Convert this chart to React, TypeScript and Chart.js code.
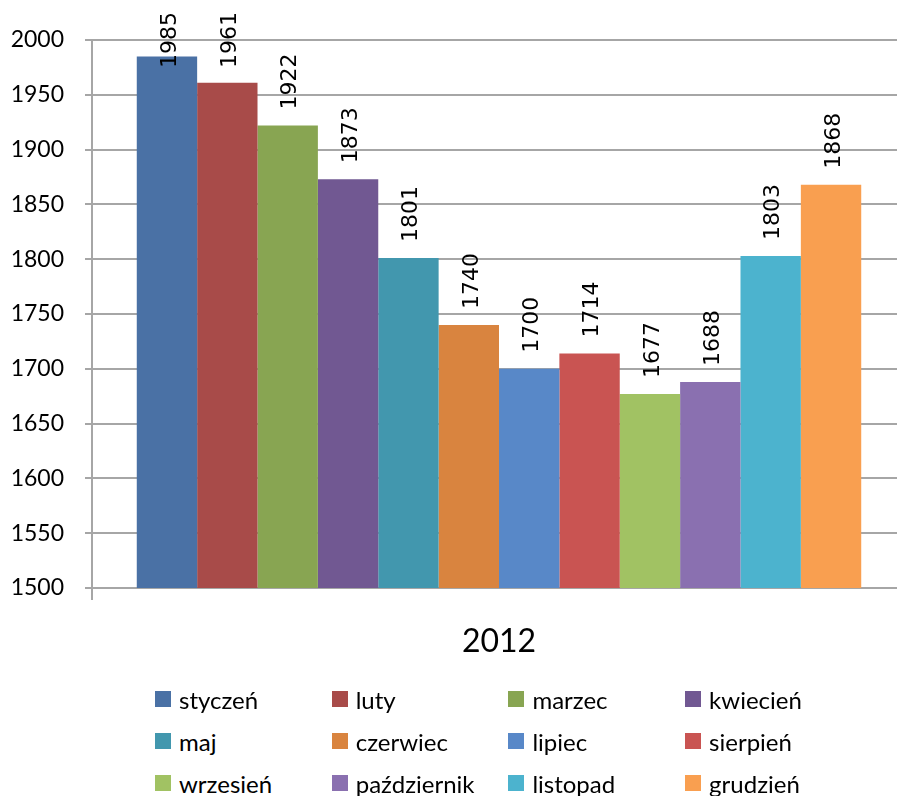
import React, { useEffect, useRef } from "react";
import { Chart, registerables } from "chart.js";

Chart.register(...registerables);

const categories = ["2012"];
const seriesNames = [
  "styczeń", "luty", "marzec", "kwiecień", "maj", "czerwiec",
  "lipiec", "sierpień", "wrzesień", "październik", "listopad", "grudzień",
];
const seriesValues = [1985, 1961, 1922, 1873, 1801, 1740, 1700, 1714, 1677, 1688, 1803, 1868];
const seriesColors = [
  "#4A71A5", "#A84B49", "#88A552", "#715892", "#4297AE", "#D9843F",
  "#5888C8", "#C95452", "#A1C263", "#8A70B0", "#4CB3CE", "#F99F50",
];
const yMin = 1500;
const yMax = 2000;
const yStep = 50;

const GRID = "#a6a6a6";

const labelPlugin = {
  id: "rotLabels",
  afterDatasetsDraw(chart: any) {
    const ctx = chart.ctx;
    ctx.save();
    ctx.font = "22px 'DejaVu Sans'";
    ctx.fillStyle = "#000";
    ctx.textAlign = "left";
    ctx.textBaseline = "middle";
    chart.data.datasets.forEach((ds: any, i: number) => {
      const meta = chart.getDatasetMeta(i);
      const bar = meta.data[0];
      if (!bar) return;
      const text = String(ds.data[0]);
      const w = ctx.measureText(text).width;
      let y = bar.y - 16;
      if (y - w < 12) y = 12 + w;
      ctx.save();
      ctx.translate(bar.x + 3, y);
      ctx.rotate(-Math.PI / 2);
      ctx.fillText(text, 0, 0);
      ctx.restore();
    });
    ctx.restore();
  },
};

export default function App() {
  const ref = useRef<HTMLCanvasElement>(null);
  useEffect(() => {
    document.body.style.margin = "0";
    const chart = new Chart(ref.current as HTMLCanvasElement, {
      type: "bar",
      data: {
        labels: categories,
        datasets: seriesNames.map((name, i) => ({
          label: name,
          data: [seriesValues[i]],
          backgroundColor: seriesColors[i],
          borderWidth: 0,
          categoryPercentage: 0.89,
          barPercentage: 1,
        })),
      },
      options: {
        animation: false,
        responsive: false,
        devicePixelRatio: 1,
        layout: { padding: { top: 40, right: 0, bottom: 0, left: 0 } },
        plugins: { legend: { display: false }, tooltip: { enabled: false } },
        scales: {
          x: {
            grid: {
              display: true,
              drawOnChartArea: false,
              drawTicks: true,
              tickLength: 12,
              offset: true,
              color: GRID,
              lineWidth: 2,
            },
            border: { display: true, color: GRID, width: 2 },
            ticks: {
              color: "#000",
              font: { family: "Lato", size: 32 },
              padding: 22,
            },
            afterFit(s: any) {
              s.height = 92;
            },
          },
          y: {
            min: yMin,
            max: yMax,
            grid: { color: GRID, lineWidth: 2, tickLength: 7 },
            border: { display: true, color: GRID, width: 2 },
            ticks: {
              stepSize: yStep,
              color: "#000",
              font: { family: "Lato", size: 23 },
              padding: 21,
              callback: (v: any) => String(v),
            },
            afterFit(s: any) {
              s.width = 92;
            },
          },
        },
      },
      plugins: [labelPlugin],
    });
    return () => chart.destroy();
  }, []);

  const colW = 176.7;
  return (
    <div style={{ position: "relative", width: 897, height: 796, overflow: "hidden", background: "#fff" }}>
      <canvas ref={ref} width={906} height={680} style={{ display: "block" }} />
      <div style={{ position: "absolute", left: 0, top: 678, width: 897 }}>
        {seriesNames.map((name, i) => {
          const col = i % 4;
          const row = Math.floor(i / 4);
          return (
            <div
              key={name}
              style={{
                position: "absolute",
                left: 155 + col * colW,
                top: row * 42,
                height: 42,
                display: "flex",
                alignItems: "center",
                fontFamily: "Lato",
                fontSize: 24,
                color: "#000",
                whiteSpace: "nowrap",
              }}
            >
              <span style={{ display: "inline-block", width: 16, height: 16, background: seriesColors[i], marginRight: 8 }} />
              <span>{name}</span>
            </div>
          );
        })}
      </div>
    </div>
  );
}
